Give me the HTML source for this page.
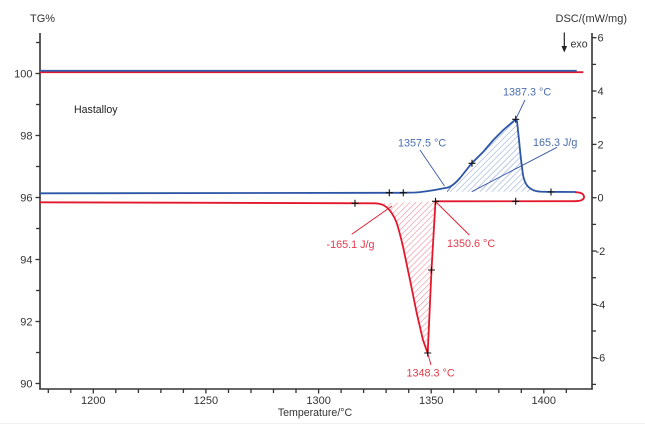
<!DOCTYPE html>
<html>
<head>
<meta charset="utf-8">
<style>
  html,body{margin:0;padding:0;background:#fff;}
  svg{display:block;}
  text{font-family:"Liberation Sans",sans-serif;}
</style>
</head>
<body>
<svg width="645" height="425" viewBox="0 0 645 425" xmlns="http://www.w3.org/2000/svg">
  <defs>
    <pattern id="hb" patternUnits="userSpaceOnUse" width="4.2" height="4.2" patternTransform="rotate(45)">
      <line x1="0" y1="0" x2="0" y2="4.2" stroke="#8ea3d4" stroke-width="1.1"/>
    </pattern>
    <pattern id="hr" patternUnits="userSpaceOnUse" width="4.2" height="4.2" patternTransform="rotate(45)">
      <line x1="0" y1="0" x2="0" y2="4.2" stroke="#f08592" stroke-width="1.1"/>
    </pattern>
  </defs>
  <rect width="645" height="425" fill="#fff"/>
  <line x1="0" y1="423.5" x2="645" y2="423.5" stroke="#f0f0f0" stroke-width="1"/>

  <!-- Axes -->
  <g stroke="#333" stroke-width="1.6" fill="none">
    <line x1="40" y1="33" x2="40" y2="389.5"/>
    <line x1="39.2" y1="389" x2="592.8" y2="389"/>
    <line x1="592" y1="33" x2="592" y2="389.5"/>
  </g>

  <!-- Left ticks TG -->
  <g stroke="#333" stroke-width="1.3">
    <line x1="36" y1="42.5" x2="40" y2="42.5"/>
    <line x1="35.5" y1="73.5" x2="40" y2="73.5"/>
    <line x1="36" y1="104.5" x2="40" y2="104.5"/>
    <line x1="35.5" y1="135.5" x2="40" y2="135.5"/>
    <line x1="36" y1="166.5" x2="40" y2="166.5"/>
    <line x1="35.5" y1="197.5" x2="40" y2="197.5"/>
    <line x1="36" y1="228.5" x2="40" y2="228.5"/>
    <line x1="35.5" y1="259.5" x2="40" y2="259.5"/>
    <line x1="36" y1="290.5" x2="40" y2="290.5"/>
    <line x1="35.5" y1="321.5" x2="40" y2="321.5"/>
    <line x1="36" y1="352.5" x2="40" y2="352.5"/>
    <line x1="35.5" y1="383.5" x2="40" y2="383.5"/>
  </g>
  <g font-size="11" fill="#333" text-anchor="end">
    <text x="32.5" y="77.5">100</text>
    <text x="32.5" y="139.5">98</text>
    <text x="32.5" y="201.5">96</text>
    <text x="32.5" y="263.5">94</text>
    <text x="32.5" y="325.5">92</text>
    <text x="32.5" y="387.5">90</text>
  </g>

  <!-- Right ticks DSC -->
  <g stroke="#333" stroke-width="1.3">
    <line x1="592" y1="37.7" x2="596.5" y2="37.7"/>
    <line x1="592" y1="64.4" x2="596" y2="64.4"/>
    <line x1="592" y1="91" x2="596.5" y2="91"/>
    <line x1="592" y1="117.7" x2="596" y2="117.7"/>
    <line x1="592" y1="144.4" x2="596.5" y2="144.4"/>
    <line x1="592" y1="171" x2="596" y2="171"/>
    <line x1="592" y1="197.7" x2="596.5" y2="197.7"/>
    <line x1="592" y1="224.4" x2="596" y2="224.4"/>
    <line x1="592" y1="251" x2="596.5" y2="251"/>
    <line x1="592" y1="277.7" x2="596" y2="277.7"/>
    <line x1="592" y1="304.4" x2="596.5" y2="304.4"/>
    <line x1="592" y1="331" x2="596" y2="331"/>
    <line x1="592" y1="357.7" x2="596.5" y2="357.7"/>
    <line x1="592" y1="384.4" x2="596" y2="384.4"/>
  </g>
  <g font-size="11" fill="#333" text-anchor="start">
    <text x="597.5" y="41.7">6</text>
    <text x="597.5" y="95">4</text>
    <text x="597.5" y="148.4">2</text>
    <text x="597.5" y="201.7">0</text>
    <text x="595.5" y="255">-2</text>
    <text x="595.5" y="308.4">-4</text>
    <text x="595.5" y="361.7">-6</text>
  </g>

  <!-- Bottom ticks -->
  <g stroke="#333" stroke-width="1.3">
    <line x1="48.3" y1="389" x2="48.3" y2="393"/>
    <line x1="70.8" y1="389" x2="70.8" y2="393"/>
    <line x1="93.3" y1="389" x2="93.3" y2="393.5"/>
    <line x1="115.8" y1="389" x2="115.8" y2="393"/>
    <line x1="138.4" y1="389" x2="138.4" y2="393"/>
    <line x1="160.9" y1="389" x2="160.9" y2="393"/>
    <line x1="183.4" y1="389" x2="183.4" y2="393"/>
    <line x1="205.9" y1="389" x2="205.9" y2="393.5"/>
    <line x1="228.5" y1="389" x2="228.5" y2="393"/>
    <line x1="251" y1="389" x2="251" y2="393"/>
    <line x1="273.5" y1="389" x2="273.5" y2="393"/>
    <line x1="296" y1="389" x2="296" y2="393"/>
    <line x1="318.6" y1="389" x2="318.6" y2="393.5"/>
    <line x1="341.1" y1="389" x2="341.1" y2="393"/>
    <line x1="363.6" y1="389" x2="363.6" y2="393"/>
    <line x1="386.1" y1="389" x2="386.1" y2="393"/>
    <line x1="408.7" y1="389" x2="408.7" y2="393"/>
    <line x1="431.2" y1="389" x2="431.2" y2="393.5"/>
    <line x1="453.7" y1="389" x2="453.7" y2="393"/>
    <line x1="476.2" y1="389" x2="476.2" y2="393"/>
    <line x1="498.8" y1="389" x2="498.8" y2="393"/>
    <line x1="521.3" y1="389" x2="521.3" y2="393"/>
    <line x1="543.8" y1="389" x2="543.8" y2="393.5"/>
    <line x1="566.3" y1="389" x2="566.3" y2="393"/>
  </g>
  <g font-size="11" fill="#333" text-anchor="middle">
    <text x="93.3" y="404">1200</text>
    <text x="205.9" y="404">1250</text>
    <text x="318.6" y="404">1300</text>
    <text x="431.2" y="404">1350</text>
    <text x="543.8" y="404">1400</text>
  </g>
  <text x="315" y="416" font-size="10.6" fill="#333" text-anchor="middle">Temperature/°C</text>

  <!-- Axis titles -->
  <text x="30" y="22" font-size="11" fill="#333">TG%</text>
  <text x="627" y="22" font-size="11" fill="#333" text-anchor="end">DSC/(mW/mg)</text>
  <line x1="564.3" y1="32.5" x2="564.3" y2="47" stroke="#222" stroke-width="1.2"/>
  <polygon points="561.5,46 567.1,46 564.3,52.5" fill="#222"/>
  <text x="570.5" y="47.5" font-size="10.6" fill="#333">exo</text>

  <text x="74" y="113" font-size="10.6" fill="#222">Hastalloy</text>

  <!-- TG curves -->
  <line x1="40" y1="72.2" x2="583.3" y2="72.2" stroke="#e2182c" stroke-width="1.8"/>
  <line x1="40" y1="70.8" x2="576.7" y2="70.8" stroke="#3a5ba8" stroke-width="1.8"/>

  <!-- Blue hatch area -->
  <path d="M447,191.7 L452,185 C456,181.5 458,180 460,178 C464,173 468,168 471.7,163.3 L483.3,151.7 L493.3,140 L503.3,130 L515.7,119.3 L517,121 L519,140 L520.5,155 L521.7,165 L523,175 L525,182 L528,186.5 L532,189.5 L537,191.7 Z" fill="url(#hb)" stroke="none"/>
  <line x1="447" y1="191.7" x2="453" y2="184.5" stroke="#3a5ba8" stroke-width="0.8"/>

  <!-- Red hatch area -->
  <path d="M383,203.2 L435.5,201.3 L431.5,270 L427.7,353.3 L423,340 L416.7,313 L410,280 L403,246.7 L396.7,223 L391.7,213 C388,208 385,205 383,203.2 Z" fill="url(#hr)" stroke="none"/>

  <!-- Label pointer lines -->
  <g stroke-width="0.9" fill="none">
    <line x1="420" y1="150" x2="444.5" y2="186" stroke="#3a5ba8"/>
    <line x1="557" y1="147.3" x2="471.7" y2="191.7" stroke="#3a5ba8"/>
    <line x1="515.7" y1="119.3" x2="525" y2="100" stroke="#3a5ba8"/>
    <line x1="351.7" y1="234.3" x2="392" y2="206" stroke="#e2182c"/>
    <line x1="435.5" y1="201.5" x2="469.3" y2="235" stroke="#e2182c"/>
    <line x1="427.7" y1="353.3" x2="431" y2="365" stroke="#e2182c"/>
  </g>

  <!-- Blue DSC curve -->
  <path d="M40,193.3 L400,192.8 L415,192.5 C424,192 432,190.5 440,189 C445,188 448,187.8 450,186.7 C454,184.5 457,181.5 460,178 C464,173 468,168 471.7,163.3 L483.3,151.7 L493.3,140 L503.3,130 L515.7,119.3 L517,121 L519,140 L520.5,155 L521.7,165 L523,175 C524,180 525.5,184 528,186.5 C530,188.5 533,190.5 537,191.2 C540,191.7 543,191.7 546,191.8 L576,192" fill="none" stroke="#2e56a6" stroke-width="1.8" stroke-linejoin="round"/>

  <!-- Red DSC curve -->
  <path d="M40,202.3 L375,203.3 C382,203.5 387,206 391.7,213 C394,216.5 395.5,219.5 396.7,223 C399,230 401,238 403,246.7 L410,280 L416.7,313 L423,340 L427.7,353.3 L431.5,270 L435.5,201.3 L575,201.2 C581,201.2 584.5,199.5 584,196.5 C583.5,193.5 580,192.2 575,192.2" fill="none" stroke="#e2182c" stroke-width="1.8" stroke-linejoin="round"/>

  <!-- Cross markers -->
  <g stroke="#111" stroke-width="1.1">
    <path d="M385.8,192.7h7M389.3,189.2v7"/>
    <path d="M399.8,192.7h7M403.3,189.2v7"/>
    <path d="M468.5,163.3h7M472,159.8v7"/>
    <path d="M512.2,119.3h7M515.7,115.8v7"/>
    <path d="M547.5,192h7M551,188.5v7"/>
    <path d="M351.5,203.3h7M355,199.8v7"/>
    <path d="M432,201.3h7M435.5,197.8v7"/>
    <path d="M428,270h7M431.5,266.5v7"/>
    <path d="M424.2,353h7M427.7,349.5v7"/>
    <path d="M512.2,201.3h7M515.7,197.8v7"/>
  </g>

  <!-- Annotations -->
  <g font-size="10.8" fill="#4a6db0">
    <text x="398" y="146.5">1357.5 °C</text>
    <text x="503" y="95.5">1387.3 °C</text>
    <text x="533" y="146">165.3 J/g</text>
  </g>
  <g font-size="10.8" fill="#e53a4a">
    <text x="326.5" y="248">-165.1 J/g</text>
    <text x="447" y="247">1350.6 °C</text>
    <text x="406.5" y="376.5">1348.3 °C</text>
  </g>
</svg>
</body>
</html>
